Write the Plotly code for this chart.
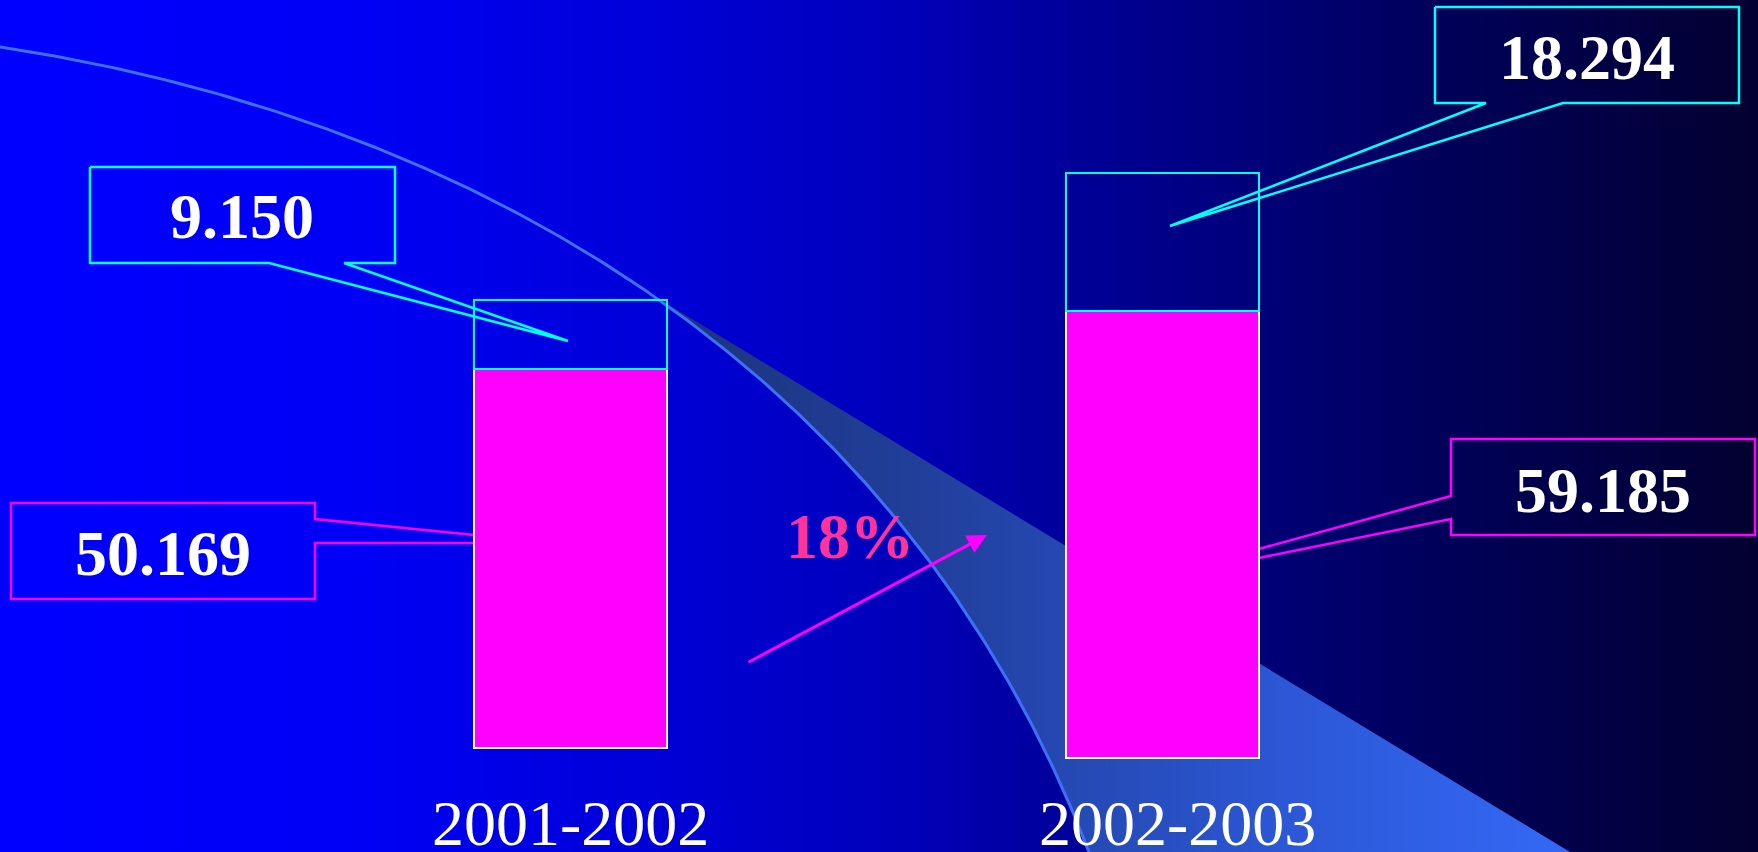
import numpy as np
import plotly.graph_objects as go

# ---------------- data ----------------
categories = ["2001-2002", "2002-2003"]
magenta_values = [50.169, 59.185]
cyan_values = [9.150, 18.294]

# ---------------- layout constants (pixels) ----------------
W, H = 1758, 852
PX_PER_UNIT = 7.55
BASELINES = [748, 758]
BAR_CENTERS = [570.5, 1162.5]
BAR_WIDTH_PX = 193
LABEL_CENTERS = [570, 1177]
MAGENTA = "#FF00FF"
CYAN = "#00FFFF"
FONT = "Liberation Serif, Times New Roman, serif"

fig = go.Figure()

# ---------------- background gradient ----------------
fig.add_trace(go.Scatter(
    x=[0, W, W, 0, 0], y=[0, 0, H, H, 0], mode="lines", line=dict(width=0),
    fill="toself",
    fillgradient=dict(type="horizontal", colorscale=[
        [0.0, "rgb(0,0,255)"], [0.2, "rgb(0,0,246)"], [0.375, "rgb(0,0,215)"],
        [0.51, "rgb(0,0,186)"], [0.65, "rgb(0,0,140)"], [0.825, "rgb(0,0,88)"],
        [1.0, "rgb(3,0,48)"]]),
    hoverinfo="skip", xaxis="x", yaxis="y"))

# ---------------- decorative arc and light band ----------------
ctrl = np.array([[0, 47], [420, 110], [889, 332], [1089, 852]], dtype=float)
t = np.linspace(0, 1, 240)[:, None]
arc = ((1 - t) ** 3) * ctrl[0] + 3 * ((1 - t) ** 2) * t * ctrl[1] + 3 * (1 - t) * t ** 2 * ctrl[2] + t ** 3 * ctrl[3]
band_pts = arc[arc[:, 0] >= 645]
band_x = list(band_pts[:, 0]) + [1570, band_pts[0, 0]]
band_y = list(band_pts[:, 1]) + [852, band_pts[0, 1]]
fig.add_trace(go.Scatter(
    x=band_x, y=band_y, mode="lines", line=dict(width=0), fill="toself",
    fillgradient=dict(type="horizontal", colorscale=[
        [0.0, "rgb(28,50,122)"], [0.3, "rgb(33,63,155)"], [0.7, "rgb(44,88,215)"],
        [1.0, "rgb(52,104,245)"]]),
    hoverinfo="skip", xaxis="x", yaxis="y"))
fig.add_trace(go.Scatter(
    x=arc[:, 0], y=arc[:, 1], mode="lines",
    line=dict(color="rgb(62,112,250)", width=3),
    hoverinfo="skip", xaxis="x", yaxis="y"))

# ---------------- callout outlines ----------------
callouts = [
    (CYAN, [(90, 167), (395, 167), (395, 263), (344, 263), (568, 341), (269, 263), (90, 263), (90, 167)]),
    (CYAN, [(1435, 7), (1739, 7), (1739, 103), (1563, 103), (1170, 226), (1486, 103), (1435, 103), (1435, 7)]),
    (MAGENTA, [(474, 535), (315, 519), (315, 503), (11, 503), (11, 599), (315, 599), (315, 543), (474, 543)]),
    (MAGENTA, [(1259, 549), (1451, 496), (1451, 439), (1755, 439), (1755, 535), (1451, 535), (1451, 519), (1259, 558)]),
]
for col, pts in callouts:
    fig.add_trace(go.Scatter(
        x=[p[0] for p in pts], y=[p[1] for p in pts], mode="lines",
        line=dict(color=col, width=2.5), hoverinfo="skip", xaxis="x", yaxis="y"))

# ---------------- bars (each category on its own baseline axis) ----------------
cat_px = BAR_CENTERS[1] - BAR_CENTERS[0]
xmin = -BAR_CENTERS[0] / cat_px
bar_w = BAR_WIDTH_PX / cat_px
yaxes = ["y2", "y3"]
for i, cat in enumerate(categories):
    fig.add_trace(go.Bar(
        x=[cat], y=[magenta_values[i]], width=bar_w,
        marker=dict(color=MAGENTA, line=dict(color="white", width=2)),
        xaxis="x2", yaxis=yaxes[i], hoverinfo="skip"))
    fig.add_trace(go.Bar(
        x=[cat], y=[cyan_values[i]], width=bar_w,
        marker=dict(color="rgba(0,0,0,0)", line=dict(color=CYAN, width=2.5)),
        xaxis="x2", yaxis=yaxes[i], hoverinfo="skip"))


def y_range(base_px):
    rmin = -(H - base_px) / PX_PER_UNIT
    return [rmin, rmin + H / PX_PER_UNIT]


# ---------------- texts ----------------
label_pos = {
    "cyan": [(242, 216), (1587, 57)],
    "magenta": [(163, 553), (1603, 490)],
}
annotations = []
for i in range(2):
    for key, vals in (("cyan", cyan_values), ("magenta", magenta_values)):
        x, y = label_pos[key][i]
        annotations.append(dict(
            x=x, y=y, xref="x", yref="y", text=f"{vals[i]:.3f}", showarrow=False,
            xanchor="center", yanchor="middle",
            font=dict(family=FONT, size=64, color="white", weight="bold")))

for i, cat in enumerate(categories):
    annotations.append(dict(
        x=LABEL_CENTERS[i], y=823, xref="x", yref="y", text=cat, showarrow=False,
        xanchor="center", yanchor="middle",
        font=dict(family=FONT, size=64, color="white")))

growth = round((magenta_values[1] - magenta_values[0]) / magenta_values[0] * 100)
annotations.append(dict(
    x=850, y=536, xref="x", yref="y", text=f"{growth}%", showarrow=False,
    xanchor="center", yanchor="middle",
    font=dict(family=FONT, size=64, color="#FF3399", weight="bold")))

annotations.append(dict(
    x=987, y=535, xref="x", yref="y", ax=747, ay=663, axref="x", ayref="y",
    text="", showarrow=True, arrowhead=2, arrowsize=1.3, arrowwidth=3,
    arrowcolor=MAGENTA, standoff=0, startstandoff=0))

fig.update_layout(
    width=W, height=H, margin=dict(l=0, r=0, t=0, b=0, pad=0),
    paper_bgcolor="#0000FF", plot_bgcolor="rgba(0,0,0,0)",
    showlegend=False, hovermode=False, barmode="stack",
    xaxis=dict(range=[0, W], visible=False, fixedrange=True, domain=[0, 1]),
    yaxis=dict(range=[H, 0], visible=False, fixedrange=True, domain=[0, 1]),
    xaxis2=dict(type="category", categoryorder="array", categoryarray=categories,
                range=[xmin, xmin + W / cat_px], overlaying="x", anchor="y2",
                visible=False, fixedrange=True),
    yaxis2=dict(range=y_range(BASELINES[0]), overlaying="y", anchor="x2",
                visible=False, fixedrange=True),
    yaxis3=dict(range=y_range(BASELINES[1]), overlaying="y", anchor="x2",
                visible=False, fixedrange=True),
    annotations=annotations,
)

fig.write_html("out.html", config={"displayModeBar": False, "staticPlot": True},
               post_script="document.body.style.margin='0';document.body.style.overflow='hidden';")
